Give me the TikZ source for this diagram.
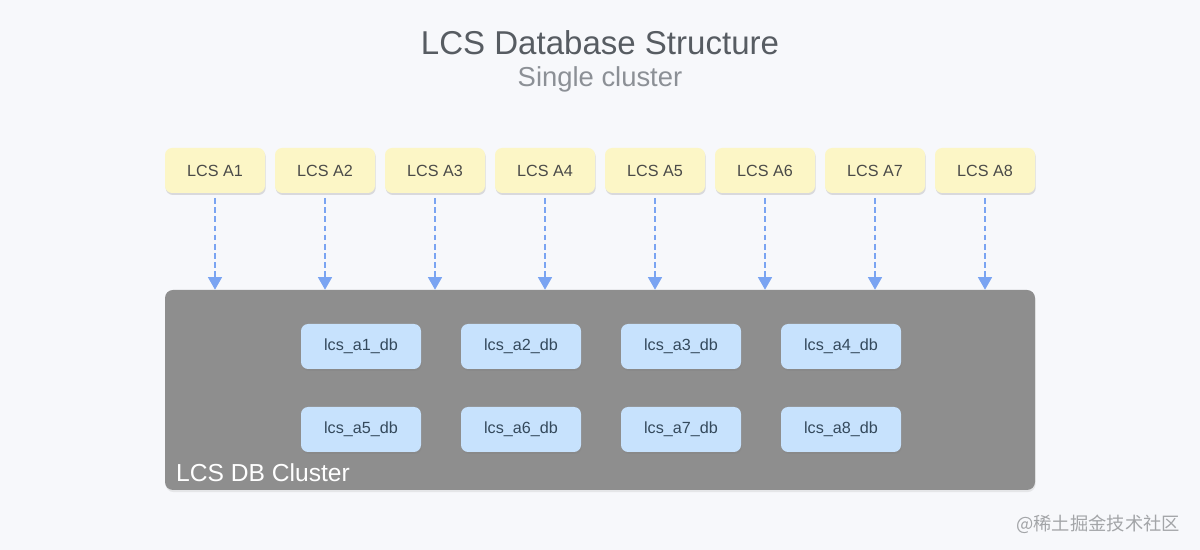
\documentclass[tikz,border=0pt]{standalone}
\usepackage{fontspec}
\setmainfont{Liberation Sans}
\newfontfamily\cjkfont{Noto Sans CJK SC}
\usepackage{xcolor}
\usetikzlibrary{arrows.meta, positioning, shadows}

\definecolor{bgcol}{HTML}{F7F8FB}
\definecolor{appfill}{HTML}{FCF6C6}
\definecolor{apptext}{HTML}{4A4A48}
\definecolor{dbfill}{HTML}{C7E2FD}
\definecolor{dbtext}{HTML}{34495C}
\definecolor{clusterfill}{HTML}{8E8E8E}
\definecolor{linkcol}{HTML}{7AA4F2}
\definecolor{titlecol}{HTML}{575C62}
\definecolor{subcol}{HTML}{8C9096}
\definecolor{wmcol}{HTML}{A3A5A8}

\begin{document}
\begin{tikzpicture}[>={Triangle[width=10pt,length=9pt]}, node distance=2.75cm, font=\fontsize{11.5}{13}\selectfont]
    \tikzstyle{app}=[rectangle, rounded corners=5pt, fill=appfill, text=apptext, minimum width=2.5cm, minimum height=1.125cm, drop shadow={opacity=0.25, shadow xshift=0.5pt, shadow yshift=-1.4pt}]
    \tikzstyle{db}=[rectangle, rounded corners=5pt, fill=dbfill, text=dbtext, minimum width=3cm, minimum height=1.125cm, drop shadow={opacity=0.3, shadow xshift=0.5pt, shadow yshift=-1.4pt}]
    \tikzstyle{cluster}=[rectangle, rounded corners=0.2cm, fill=clusterfill, minimum width=21.75cm, minimum height=5cm, drop shadow={opacity=0.15, shadow xshift=0.4pt, shadow yshift=-1.5pt}]
    \tikzstyle{link}=[->, color=linkcol, line width=1pt, dash pattern=on 4pt off 2.5pt, shorten <=3.5pt]

    % background and page size
    \fill[bgcol] (0,0) rectangle (30,13.75);
    \useasboundingbox (0,0) rectangle (30,13.75);

    \node[text=titlecol, font=\fontsize{23.5}{28}\selectfont] (title) at (15,12.675) {LCS Database Structure};
    \node[text=subcol, font=\fontsize{19.5}{23}\selectfont] (subtitle) at (15,11.76) {Single cluster};

    % applications
    \node[app]    (A1) at (5.375,9.4875)  {LCS A1};
    \node[app]    (A2) [right of=A1]      {LCS A2};
    \node[app]    (A3) [right of=A2]      {LCS A3};
    \node[app]    (A4) [right of=A3]      {LCS A4};
    \node[app]    (A5) [right of=A4]      {LCS A5};
    \node[app]    (A6) [right of=A5]      {LCS A6};
    \node[app]    (A7) [right of=A6]      {LCS A7};
    \node[app]    (A8) [right of=A7]      {LCS A8};

    % cluster
    \node[cluster] (C) at (15,4) {};
    \node[anchor=west, text=white, font=\fontsize{17.5}{20}\selectfont] (Clabel) at (4.28,1.925) {LCS DB Cluster};

    % databases
    \node[db]    (D1) at (9.025,5.0875)                   {lcs\_a1\_db};
    \node[db]    (D2) [right of=D1, node distance=4cm]     {lcs\_a2\_db};
    \node[db]    (D3) [right of=D2, node distance=4cm]     {lcs\_a3\_db};
    \node[db]    (D4) [right of=D3, node distance=4cm]     {lcs\_a4\_db};
    \node[db]    (D5) [below of=D1, node distance=2.075cm] {lcs\_a5\_db};
    \node[db]    (D6) [right of=D5, node distance=4cm]     {lcs\_a6\_db};
    \node[db]    (D7) [right of=D6, node distance=4cm]     {lcs\_a7\_db};
    \node[db]    (D8) [right of=D7, node distance=4cm]     {lcs\_a8\_db};

    \path[link]
    (A1) edge (A1 |- C.north)
    (A2) edge (A2 |- C.north)
    (A3) edge (A3 |- C.north)
    (A4) edge (A4 |- C.north)
    (A5) edge (A5 |- C.north)
    (A6) edge (A6 |- C.north)
    (A7) edge (A7 |- C.north)
    (A8) edge (A8 |- C.north);

    \node[anchor=east, text=wmcol, font=\cjkfont\fontsize{13}{15}\selectfont] (wm) at (29.62,0.65) {@稀土掘金技术社区};
\end{tikzpicture}
\end{document}
